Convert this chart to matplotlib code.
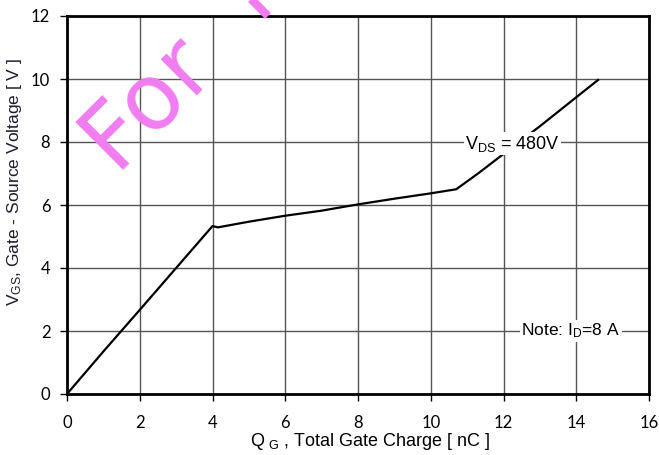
import matplotlib.pyplot as plt

plt.rcParams['font.family'] = ['Liberation Sans', 'DejaVu Sans']
plt.rcParams['mathtext.fontset'] = 'custom'
plt.rcParams['mathtext.rm'] = 'Liberation Sans'

# gate charge curve, VDS = 480 V, ID = 8 A
qg = [0, 1, 2, 3, 4.0, 4.15, 5, 6, 7, 8, 9, 10, 10.7, 11.3, 12, 13, 14, 14.6]
vgs = [0, 1.35, 2.67, 4.0, 5.33, 5.29, 5.47, 5.66, 5.82, 6.02, 6.2, 6.37, 6.5, 7.0, 7.62, 8.5, 9.42, 9.97]

x_ticks = [0, 2, 4, 6, 8, 10, 12, 14, 16]
y_ticks = [0, 2, 4, 6, 8, 10, 12]

W, H = 659, 455
fig, ax = plt.subplots(figsize=(W / 100, H / 100), dpi=100)
fig.subplots_adjust(left=67 / W, right=649 / W, top=1 - 16 / H, bottom=1 - 394 / H)

# watermark
wm = '#F07DF0'
fig.text(114 / W, 1 - 169 / H, 'For', rotation=45, rotation_mode='anchor',
         ha='left', va='baseline', fontsize=66, color=wm,
         family='DejaVu Sans', zorder=0.5)
# stem of the next watermark letter, cut by the top edge
fig.add_artist(plt.Line2D([247 / W, 268 / W], [1 + 5 / H, 1 - 16 / H],
                          transform=fig.transFigure, color=wm, lw=6,
                          solid_capstyle='butt', zorder=0.5))

ax.plot(qg, vgs, color='black', lw=1.6, zorder=3)

ax.set_xlim(0, 16)
ax.set_ylim(0, 12)
ax.set_xticks(x_ticks)
ax.set_yticks(y_ticks)
ax.grid(True, color='#555555', lw=1.0, zorder=1)
ax.set_axisbelow(True)
ax.patch.set_alpha(0)
ax.tick_params(direction='out', length=5, width=1, labelsize=12)
ax.tick_params(axis='x', pad=10)
ax.tick_params(axis='y', pad=7)
for lab in ax.get_xticklabels() + ax.get_yticklabels():
    lab.set_family(['Lato', 'DejaVu Sans'])
for s in ax.spines.values():
    s.set_linewidth(2)

ax.set_xlabel(r'$\mathregular{Q_{\ G}}$ , Total Gate Charge [ nC ]', fontsize=13)
ax.set_ylabel(r'$\mathregular{V_{GS}}$, Gate - Source Voltage [ V ]', fontsize=12.5,
              color='#1c1c2c')
ax.xaxis.set_label_coords((370 - 67) / 582, -(441 - 394) / 378)
ax.yaxis.set_label_coords((15 - 67) / 582, (394 - 182) / 378)
ax.xaxis.label.set_va('center')
ax.yaxis.label.set_va('center')

ax.text(12.25, 7.94, r'$\mathregular{V_{DS}}$ = 480V', fontsize=13, ha='center', va='center',
        zorder=4, bbox=dict(facecolor='white', edgecolor='none', pad=1))
ax.text(13.85, 2.0, r'Note: $\mathregular{I_D}$=8 A', fontsize=12.5, ha='center', va='center',
        zorder=4, bbox=dict(facecolor='white', edgecolor='none', pad=1))

fig.savefig('out.png', dpi=100)
